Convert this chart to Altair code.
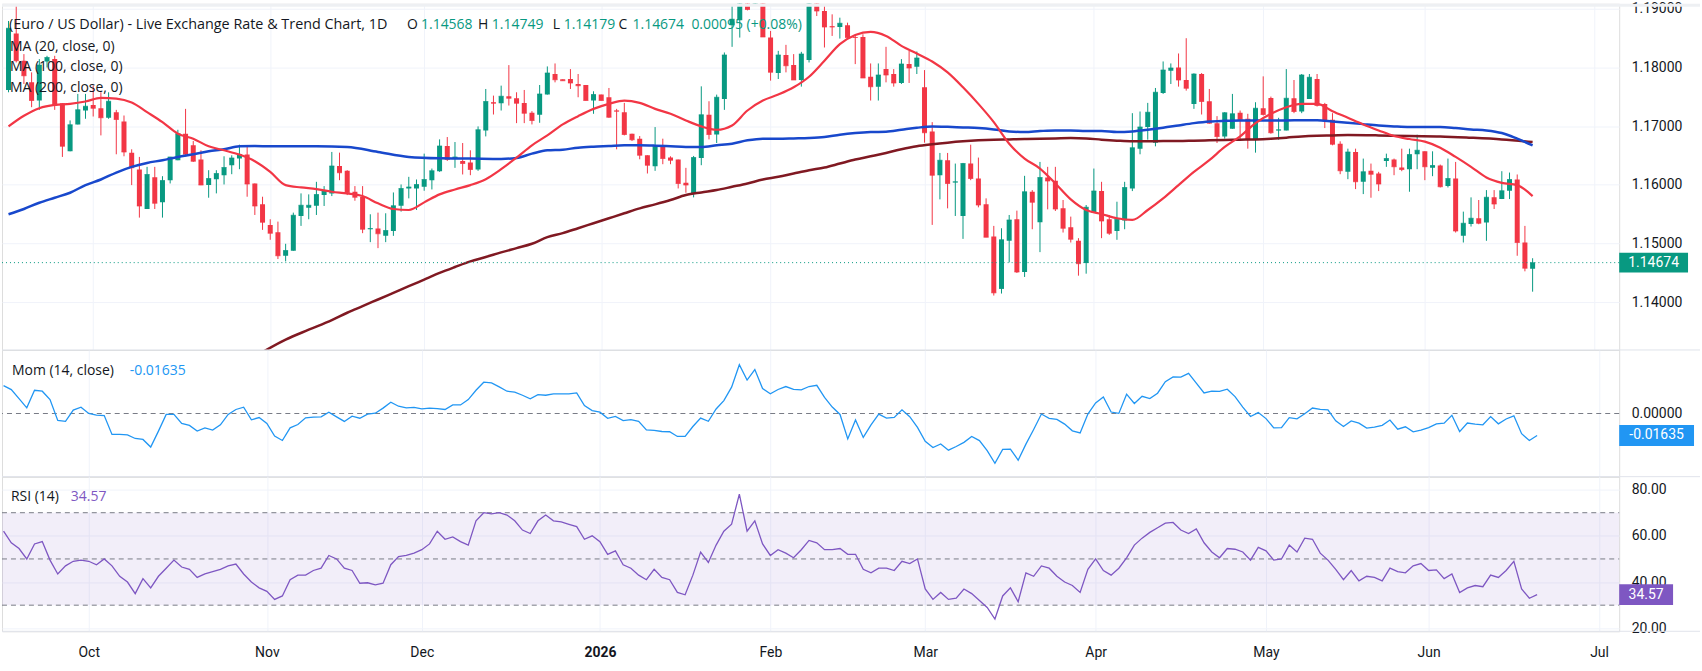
import altair as alt
import pandas as pd

# ---------------- data (bar index = trading days counted from 1 Oct 2025) ----------------
FIRST_BAR = -11

opens = [1.17616,1.18577,1.18114,1.17746,1.17436,1.18102,1.18142,1.17390,1.16571,1.17029,1.17266,
 1.17362,1.17306,1.17142,1.17238,1.17080,1.16548,1.16260,1.15588,1.16130,1.15701,
 1.16079,1.16419,1.16871,1.16673,1.16430,1.15995,1.16096,1.16164,1.16334,1.16447,
 1.16515,1.16023,1.15667,1.15317,1.15192,1.14791,1.14876,1.15469,1.15611,1.15644,
 1.15825,1.15854,1.16322,1.16238,1.15882,1.15797,1.15243,1.15255,1.15130,1.15215,
 1.15644,1.15938,1.15938,1.15967,1.16079,1.16232,1.16661,1.16447,1.16407,1.16379,
 1.16260,1.16927,1.17407,1.17390,1.17509,1.17475,1.17396,1.17226,1.17193,1.17537,
 1.17888,1.17797,1.17803,1.17718,1.17701,1.17436,1.17537,1.17492,1.17266,1.17238,
 1.16871,1.16786,1.16503,1.16317,1.16645,1.16464,1.16430,1.16034,1.15842,1.16458,
 1.17193,1.16859,1.17464,1.18718,1.18803,1.20400,1.19050,1.19600,1.18509,1.17904,
 1.18210,1.18040,1.17786,1.18125,1.19200,1.18961,1.18701,1.18690,1.18718,1.18520,
 1.18520,1.17842,1.17673,1.17972,1.17888,1.17735,1.18057,1.18012,1.17661,1.16910,
 1.16164,1.16419,1.16040,1.15469,1.16362,1.16108,1.15667,1.15119,1.14226,1.15046,
 1.15413,1.14514,1.15882,1.15362,1.16125,1.16068,1.15599,1.15277,1.15046,1.14667,
 1.15526,1.15893,1.15413,1.15215,1.15390,1.15938,1.16616,1.16984,1.16718,1.17565,
 1.17944,1.18000,1.17786,1.17379,1.17888,1.17424,1.17051,1.16825,1.16955,1.17226,
 1.17125,1.16769,1.17306,1.17481,1.16927,1.16927,1.17475,1.17249,1.17464,1.17803,
 1.17379,1.17108,1.16701,1.16221,1.16560,1.16051,1.16238,1.16193,1.16407,1.16430,
 1.16294,1.16266,1.16520,1.16571,1.16289,1.16328,1.15978,1.16108,1.15130,1.15334,
 1.15430,1.15356,1.15786,1.15757,1.15899,1.16091,1.15017,1.14568]

highs = [1.18792,1.19046,1.18227,1.17916,1.18142,1.18198,1.18198,1.17390,1.17097,1.17549,1.17549,
 1.17690,1.17577,1.17577,1.17277,1.17181,1.16605,1.16475,1.16306,1.16306,1.16147,
 1.16475,1.16938,1.17294,1.16746,1.16588,1.16249,1.16249,1.16486,1.16503,1.16684,
 1.16673,1.16023,1.15797,1.15413,1.15373,1.14995,1.15526,1.15854,1.15837,1.16051,
 1.15978,1.16560,1.16548,1.16249,1.15978,1.15978,1.15498,1.15526,1.15515,1.15870,
 1.16006,1.16136,1.16091,1.16531,1.16277,1.16774,1.16814,1.16729,1.16712,1.16588,
 1.16995,1.17633,1.17520,1.17690,1.18040,1.17577,1.17616,1.17255,1.17701,1.18017,
 1.18068,1.17797,1.17972,1.17888,1.17701,1.17594,1.17537,1.17650,1.17294,1.17396,
 1.16871,1.16831,1.16503,1.16984,1.16786,1.16486,1.16430,1.16289,1.16492,1.17678,
 1.17424,1.17537,1.18255,1.19046,1.20800,1.20600,1.19900,1.19750,1.18622,1.18283,
 1.18385,1.18227,1.18266,1.19350,1.19350,1.19046,1.18905,1.18848,1.18763,1.18537,
 1.18566,1.18068,1.18068,1.18351,1.17972,1.18142,1.18283,1.18272,1.17955,1.17068,
 1.16543,1.16543,1.16362,1.16373,1.16684,1.16464,1.15769,1.15300,1.15260,1.15486,
 1.15560,1.16153,1.15910,1.16390,1.16306,1.16306,1.15741,1.15458,1.15091,1.15656,
 1.16277,1.16051,1.15486,1.15712,1.16051,1.17221,1.17249,1.17396,1.17650,1.18102,
 1.18068,1.18238,1.18498,1.17899,1.17904,1.17633,1.17170,1.17238,1.17549,1.17266,
 1.17210,1.17407,1.17848,1.17503,1.17142,1.17972,1.17786,1.17888,1.17888,1.17888,
 1.17396,1.17221,1.16741,1.16616,1.16616,1.16447,1.16362,1.16221,1.16531,1.16447,
 1.16616,1.16616,1.16854,1.16571,1.16571,1.16345,1.16447,1.16390,1.15543,1.15786,
 1.15741,1.15910,1.15910,1.16232,1.16209,1.16176,1.15300,1.14749]

lows = [1.17577,1.18085,1.17718,1.17323,1.17277,1.18000,1.17277,1.16475,1.16571,1.17029,1.17125,
 1.17164,1.16842,1.17125,1.16520,1.16486,1.15995,1.15441,1.15588,1.15588,1.15441,
 1.16023,1.16419,1.16486,1.16390,1.15995,1.15780,1.15854,1.16006,1.16181,1.16266,
 1.15797,1.15486,1.15232,1.15063,1.14735,1.14695,1.14876,1.15300,1.15413,1.15486,
 1.15639,1.15808,1.16079,1.15825,1.15729,1.15176,1.15023,1.14921,1.15023,1.15130,
 1.15543,1.15769,1.15571,1.15899,1.15921,1.16221,1.16407,1.16289,1.16176,1.16164,
 1.16238,1.16825,1.17198,1.17266,1.17351,1.17051,1.17051,1.17029,1.17057,1.17537,
 1.17746,1.17775,1.17633,1.17492,1.17436,1.17210,1.17436,1.17142,1.16605,1.16842,
 1.16746,1.16435,1.16193,1.16238,1.16351,1.16351,1.15938,1.15865,1.15786,1.16334,
 1.16774,1.16712,1.17277,1.18351,1.18509,1.18972,1.19050,1.18520,1.17775,1.17803,
 1.17916,1.17786,1.17673,1.18085,1.18876,1.18340,1.18537,1.18492,1.18492,1.18057,
 1.17820,1.17436,1.17436,1.17746,1.17673,1.17718,1.17735,1.17888,1.16718,1.15317,
 1.15752,1.15599,1.15469,1.15079,1.16079,1.15616,1.15108,1.14113,1.14147,1.14678,
 1.14498,1.14430,1.15243,1.14853,1.15582,1.15554,1.15187,1.15017,1.14452,1.14486,
 1.15526,1.15091,1.15147,1.15063,1.15243,1.15893,1.16520,1.16769,1.16656,1.17549,
 1.17718,1.17673,1.17605,1.17294,1.17198,1.17040,1.16712,1.16786,1.16955,1.16774,
 1.16616,1.16548,1.17181,1.16871,1.16769,1.16927,1.17221,1.17221,1.17464,1.17334,
 1.16967,1.16673,1.16181,1.16096,1.15927,1.15842,1.15780,1.15893,1.16306,1.16164,
 1.16232,1.15882,1.16266,1.16079,1.16147,1.15955,1.15955,1.15187,1.15017,1.15289,
 1.15328,1.15046,1.15588,1.15757,1.15757,1.14791,1.14526,1.14179]

closes = [1.18667,1.18114,1.17859,1.17436,1.18040,1.18170,1.17351,1.16656,1.17023,1.17277,1.17339,
 1.17306,1.17142,1.17424,1.17113,1.16560,1.16289,1.15639,1.16176,1.15684,1.16074,
 1.16475,1.16871,1.16520,1.16402,1.15995,1.16108,1.16193,1.16294,1.16458,1.16515,
 1.16012,1.15639,1.15362,1.15176,1.14791,1.14882,1.15481,1.15650,1.15650,1.15837,
 1.15899,1.16322,1.16204,1.15870,1.15786,1.15243,1.15255,1.15164,1.15221,1.15644,
 1.15938,1.15961,1.16006,1.16091,1.16238,1.16661,1.16430,1.16475,1.16362,1.16260,
 1.16938,1.17419,1.17390,1.17509,1.17475,1.17390,1.17221,1.17097,1.17549,1.17904,
 1.17791,1.17775,1.17735,1.17690,1.17436,1.17537,1.17436,1.17153,1.17255,1.16859,
 1.16769,1.16503,1.16334,1.16656,1.16447,1.16419,1.16023,1.15995,1.16464,1.17193,
 1.16859,1.17492,1.18210,1.18820,1.20400,1.18989,1.19600,1.18520,1.17916,1.18210,
 1.18029,1.17786,1.18227,1.19200,1.18961,1.18690,1.18690,1.18752,1.18509,1.18509,
 1.17820,1.17673,1.17871,1.17871,1.17735,1.18057,1.17989,1.18159,1.16887,1.16164,
 1.16419,1.16023,1.16051,1.16362,1.16108,1.15656,1.15108,1.14159,1.15063,1.15402,
 1.14514,1.15882,1.15701,1.16125,1.16063,1.15588,1.15260,1.15074,1.14656,1.15616,
 1.15893,1.15385,1.15176,1.15413,1.15955,1.16633,1.16984,1.17238,1.17577,1.17955,
 1.17989,1.17786,1.17645,1.17888,1.17419,1.17051,1.16825,1.17226,1.17210,1.17113,
 1.16769,1.17306,1.17198,1.16887,1.16938,1.17475,1.17249,1.17871,1.17831,1.17351,
 1.17097,1.16690,1.16238,1.16560,1.16051,1.16221,1.16181,1.16012,1.16447,1.16306,
 1.16260,1.16515,1.16588,1.16306,1.16328,1.15967,1.16108,1.15215,1.15345,1.15430,
 1.15345,1.15786,1.15673,1.15899,1.16091,1.15017,1.14579,1.14674]

ma20_idx = list(range(-11, 188, 2))
ma20_val = [1.16995,1.17176,1.17306,1.17362,1.17379,1.17419,1.17481,1.17469,1.17402,1.17238,
 1.17068,1.16871,1.16786,1.16656,1.16588,1.16515,1.16402,1.16221,1.15995,1.15955,
 1.15927,1.15882,1.15854,1.15808,1.15684,1.15588,1.15571,1.15701,1.15837,1.15921,
 1.15995,1.16096,1.16266,1.16464,1.16673,1.16842,1.17029,1.17170,1.17294,1.17379,
 1.17436,1.17396,1.17294,1.17210,1.17097,1.16995,1.16938,1.17012,1.17266,1.17436,
 1.17537,1.17662,1.17842,1.18114,1.18396,1.18554,1.18605,1.18537,1.18368,1.18238,
 1.18102,1.17916,1.17662,1.17379,1.17068,1.16701,1.16447,1.16277,1.16023,1.15752,
 1.15571,1.15503,1.15430,1.15402,1.15571,1.15769,1.15995,1.16221,1.16419,1.16645,
 1.16825,1.17051,1.17210,1.17323,1.17379,1.17379,1.17255,1.17142,1.17029,1.16927,
 1.16831,1.16780,1.16735,1.16633,1.16475,1.16306,1.16125,1.16034,1.15995,1.15808]

ma100_idx = [-11,-9,-7,-5,-3,-1,1,3,5,7,9,11,13,15,17,19,21,23,25,29,33,37,41,45,49,53] + list(range(55, 188, 2))
ma100_val = [1.15498,1.15588,1.15695,1.15780,1.15865,1.15995,1.16091,1.16209,1.16306,1.16373,
 1.16419,1.16475,1.16520,1.16571,1.16605,1.16656,1.16661,1.16656,1.16656,1.16656,
 1.16645,1.16560,1.16475,1.16452,1.16447,1.16441,
 1.16458,1.16531,1.16588,1.16599,1.16633,1.16650,1.16661,1.16673,1.16673,1.16667,
 1.16656,1.16645,1.16645,1.16673,1.16701,1.16758,1.16786,1.16786,1.16791,1.16797,
 1.16814,1.16854,1.16882,1.16899,1.16904,1.16938,1.16972,1.16995,1.16989,1.16978,
 1.16967,1.16944,1.16910,1.16899,1.16916,1.16927,1.16927,1.16916,1.16916,1.16899,
 1.16910,1.16938,1.16972,1.17012,1.17051,1.17080,1.17091,1.17097,1.17097,1.17097,
 1.17097,1.17102,1.17102,1.17080,1.17057,1.17034,1.17012,1.16995,1.16984,1.16984,
 1.16984,1.16967,1.16944,1.16927,1.16882,1.16786,1.16673]

ma200_idx = [22, 25, 28, 31] + list(range(33, 164, 2)) + [167, 171, 175, 179, 183, 187]
ma200_val = [1.13150,1.13362,1.13531,1.13695,
 1.13820,1.13933,1.14046,1.14159,1.14272,1.14385,1.14498,1.14599,1.14695,1.14769,
 1.14848,1.14921,1.14995,1.15108,1.15176,1.15260,1.15345,1.15430,1.15515,1.15599,
 1.15667,1.15741,1.15825,1.15870,1.15910,1.15966,1.16023,1.16091,1.16136,1.16193,
 1.16249,1.16294,1.16362,1.16430,1.16486,1.16543,1.16605,1.16656,1.16690,1.16718,
 1.16741,1.16758,1.16769,1.16774,1.16780,1.16786,1.16791,1.16797,1.16791,1.16769,
 1.16752,1.16741,1.16741,1.16746,1.16746,1.16752,1.16758,1.16763,1.16769,1.16774,
 1.16786,1.16803,1.16825,1.16837,1.16842,1.16848,
 1.16842,1.16831,1.16825,1.16803,1.16774,1.16729]

# Momentum (14, close), one value per bar from FIRST_BAR
mom_val = [0.0208,0.0178,0.0111,0.0042,0.0173,0.0166,0.0104,-0.0052,-0.0059,0.0025,0.0047,
 0.0,-0.0012,-0.0015,-0.0156,-0.0156,-0.0159,-0.0186,-0.0193,-0.0250,-0.0131,
 -0.0007,-0.0007,-0.0074,-0.0089,-0.0131,-0.0107,-0.0124,-0.0084,-0.0007,0.0030,
 0.0047,-0.0047,-0.0030,-0.0074,-0.0168,-0.0201,-0.0107,-0.0082,-0.0032,-0.0027,
 -0.0025,0.0010,-0.0025,-0.0059,-0.0020,-0.0035,-0.0005,0.0002,0.0040,0.0084,
 0.0054,0.0042,0.0045,0.0035,0.0040,0.0037,0.0030,0.0064,0.0064,0.0104,
 0.0173,0.0233,0.0228,0.0198,0.0166,0.0159,0.0136,0.0109,0.0141,0.0136,
 0.0146,0.0146,0.0146,0.0154,0.0059,0.0022,0.0010,
 -0.0036,-0.0022,-0.0053,-0.0045,-0.0059,-0.0122,-0.0125,-0.0134,-0.0136,-0.0171,
 -0.0170,-0.0097,-0.0034,-0.0058,0.0034,0.0096,0.0196,0.0363,0.0249,0.0327,
 0.0186,0.0147,0.0179,0.0201,0.0179,0.0176,0.0201,0.0210,0.0120,0.0048,
 -0.0007,-0.0189,-0.0048,-0.0178,-0.0085,-0.0005,-0.0034,-0.0029,0.0027,-0.0024,
 -0.0104,-0.0207,-0.0253,-0.0227,-0.0273,-0.0246,-0.0215,-0.0171,-0.0202,-0.0276,
 -0.0371,-0.0267,-0.0266,-0.0348,-0.0228,-0.0119,-0.0004,-0.0036,-0.0044,-0.0079,
 -0.0129,-0.0145,-0.0004,0.0079,0.0123,0.0011,0.0001,0.0144,0.0075,0.0128,
 0.0111,0.0151,0.0237,0.0273,0.0271,0.0299,0.0227,0.0153,0.0167,0.0165,
 0.0181,0.0126,0.0048,-0.0022,0.0007,-0.0038,-0.0107,-0.0105,-0.0031,-0.0040,
 -0.0002,0.0041,0.0030,0.0027,-0.0054,-0.0097,-0.0055,-0.0072,-0.0109,-0.0102,
 -0.0088,-0.0049,-0.0117,-0.0099,-0.0136,-0.0124,-0.0105,-0.0077,-0.0072,-0.0013,
 -0.0135,-0.0071,-0.0079,-0.0084,-0.0023,-0.0077,-0.0041,-0.0017,-0.0150,-0.0201,
 -0.01635]

# RSI (14), one value per bar from FIRST_BAR
rsi_val = [62.0,57.0,54.5,50.0,56.5,57.5,49.5,43.5,47.0,49.0,49.5,
 49.0,47.5,50.0,47.0,42.5,40.0,35.0,41.5,37.5,42.5,
 46.0,49.5,46.5,45.5,42.0,43.5,44.5,45.5,47.0,47.8,
 43.5,40.0,37.5,36.0,32.5,34.0,41.0,43.0,43.0,45.0,
 46.0,51.5,50.0,46.0,45.0,39.5,39.7,38.8,39.5,47.5,
 51.0,51.5,52.5,54.0,56.5,62.0,58.5,59.5,57.5,56.0,
 66.5,70.0,69.5,70.0,69.0,66.5,62.5,61.0,66.5,69.0,
 66.5,66.0,65.0,64.0,58.5,60.0,57.5,52.0,53.5,47.5,
 46.0,43.0,41.0,45.5,42.0,41.0,35.5,34.5,43.0,53.0,
 48.5,56.0,62.0,65.0,78.0,62.0,66.5,56.5,51.5,54.0,
 52.5,50.5,54.0,58.0,57.0,54.0,54.0,54.5,52.0,52.0,
 45.5,44.0,46.0,46.0,45.0,49.0,48.0,50.0,37.0,32.5,
 35.5,32.5,33.0,37.0,35.0,32.0,29.0,24.0,34.0,37.5,
 31.5,44.0,42.5,47.0,46.0,42.5,40.0,38.5,35.5,45.5,
 50.0,45.0,43.0,46.0,50.5,56.0,59.0,61.5,63.5,65.5,
 65.8,62.5,61.0,63.0,57.0,53.0,50.5,54.5,54.2,53.0,
 49.5,55.0,53.5,49.5,50.0,56.0,53.0,59.0,58.5,52.5,
 49.5,45.5,41.0,45.0,40.5,42.5,42.0,40.5,46.0,44.5,
 44.0,47.0,48.0,45.0,45.3,41.5,43.5,35.5,37.5,38.5,
 38.0,43.0,42.0,45.0,49.0,37.0,33.0,34.57]

month_ticks = [0, 23, 43, 66, 88, 108, 130, 152, 173, 195]
month_labels = ["Oct", "Nov", "Dec", "2026", "Feb", "Mar", "Apr", "May", "Jun", "Jul"]
price_ticks = [1.14, 1.15, 1.16, 1.17, 1.18, 1.19]
rsi_ticks = [20, 40, 60, 80]
rsi_levels = [70, 50, 30]

last_open, last_high, last_low, last_close = 1.14568, 1.14749, 1.14179, 1.14674
last_change, last_change_pct = 0.00095, 0.08
last_mom = -0.01635
last_rsi = 34.57

# ---------------- styling ----------------
W = 1621
FONT = "Roboto"
LFONT = "Open Sans"
TXT = "#131722"
GREEN = "#089981"
RED = "#f23645"
GRID = "#f0f3fa"
SEP = "#e0e3eb"
MOM_C = "#2196f3"
RSI_C = "#7e57c2"

XDOM = [-11.2, 197.6]
label_expr = "".join(f"datum.value == {t} ? '{l}' : " for t, l in zip(month_ticks, month_labels)) + "''"

def xenc(show_labels=False):
    ax = alt.Axis(values=month_ticks, grid=True, gridColor=GRID, ticks=False, domain=False,
                  labels=show_labels, title=None, labelExpr=label_expr, labelFont=FONT,
                  labelFontSize=14, labelColor=TXT, labelPadding=14, labelOverlap=False,
                  labelFlush=False,
                  labelFontWeight={"expr": "datum.value == 66 ? 'bold' : 'normal'"})
    return alt.X("i:Q", scale=alt.Scale(domain=XDOM, nice=False, zero=False), axis=ax)

def text_layer(txt, x, y, color=TXT, size=14, weight="normal"):
    return alt.Chart(pd.DataFrame({"t": [txt]})).mark_text(
        align="left", baseline="middle", font=LFONT, fontSize=size, color=color,
        fontWeight=weight).encode(x=alt.value(x), y=alt.value(y), text="t:N")

def badge(value, label, color, wpx, hpx, yscale):
    half = hpx / wpx
    path = f"M-1,-{half:.3f}H1V{half:.3f}H-1Z"
    df_b = pd.DataFrame({"v": [value], "t": [label]})
    box = alt.Chart(df_b).mark_point(shape=path, size=wpx * wpx, filled=True, opacity=1,
                                     color=color, strokeWidth=0).encode(
        x=alt.value(W + wpx / 2), y=alt.Y("v:Q", scale=yscale))
    txt = alt.Chart(df_b).mark_text(font=FONT, fontSize=14, color="white", align="center",
                                    baseline="middle").encode(
        x=alt.value(W + wpx / 2), y=alt.Y("v:Q", scale=yscale), text="t:N")
    return box + txt

# ---------------- main price panel ----------------
idx = list(range(FIRST_BAR, FIRST_BAR + len(closes)))
df = pd.DataFrame({"i": idx, "open": opens, "high": highs, "low": lows, "close": closes})
df["dir"] = ["up" if c >= o else "down" for o, c in zip(df["open"], df["close"])]

ys_main = alt.Scale(domain=[1.13186, 1.19085], nice=False, zero=False)
yax_main = alt.Axis(orient="right", values=price_ticks, format=".5f", grid=True, gridColor=GRID,
                    ticks=False, domain=False, title=None, labelFont=FONT, labelFontSize=14,
                    labelColor=TXT, labelPadding=12)
col = alt.Color("dir:N", scale=alt.Scale(domain=["up", "down"], range=[GREEN, RED]), legend=None)

base = alt.Chart(df)
wicks = base.mark_rule(strokeWidth=1, clip=True).encode(
    x=xenc(), y=alt.Y("low:Q", scale=ys_main, axis=yax_main), y2="high:Q", color=col)
bodies = base.mark_bar(size=5, clip=True).encode(
    x=xenc(), y=alt.Y("open:Q", scale=ys_main), y2="close:Q", color=col)
ticks_ = base.mark_tick(orient="horizontal", size=5, thickness=1, clip=True).encode(
    x=xenc(), y=alt.Y("close:Q", scale=ys_main), color=col)

def ma_line(ix, vals, color, width):
    d = pd.DataFrame({"i": ix, "v": vals})
    return alt.Chart(d).mark_line(color=color, strokeWidth=width, clip=True,
                                  interpolate="monotone").encode(
        x=xenc(), y=alt.Y("v:Q", scale=ys_main))

ma200 = ma_line(ma200_idx, ma200_val, "#801922", 2.5)
ma100 = ma_line(ma100_idx, ma100_val, "#1848cc", 2.5)
ma20 = ma_line(ma20_idx, ma20_val, "#f23645", 2.2)

last_rule = alt.Chart(pd.DataFrame({"v": [last_close]})).mark_rule(
    color=GREEN, strokeDash=[1, 3], strokeWidth=1).encode(y=alt.Y("v:Q", scale=ys_main))

top_band = alt.Chart(pd.DataFrame({"a": [0]})).mark_rule(color="#eef0f3", strokeWidth=3).encode(
    x=alt.value(0), x2=alt.value(1702), y=alt.value(1.5))

legend_main = (
    text_layer("(Euro / US Dollar) - Live Exchange Rate & Trend Chart, 1D", 7, 21, size=14.4)
    + text_layer("O", 406, 21) + text_layer(f"{last_open:.5f}", 420, 21, GREEN)
    + text_layer("H", 477, 21) + text_layer(f"{last_high:.5f}", 491, 21, GREEN)
    + text_layer("L", 552, 21) + text_layer(f"{last_low:.5f}", 563, 21, GREEN)
    + text_layer("C", 618, 21) + text_layer(f"{last_close:.5f}", 632, 21, GREEN)
    + text_layer(f"{last_change:.5f} (+{last_change_pct:.2f}%)", 691, 21, GREEN)
    + text_layer("MA (20, close, 0)", 8, 43)
    + text_layer("MA (100, close, 0)", 8, 63)
    + text_layer("MA (200, close, 0)", 8, 84)
)

main = alt.layer(wicks, bodies, ticks_, ma200, ma100, ma20, last_rule, top_band, legend_main,
                 badge(last_close, f"{last_close:.5f}", GREEN, 69, 20, ys_main)).properties(
    width=W, height=347)

# ---------------- momentum panel ----------------
ys_mom = alt.Scale(domain=[-0.04704, 0.04734], nice=False, zero=False)
yax_mom = alt.Axis(orient="right", values=[0], format=".5f", grid=False, ticks=False, domain=False,
                   title=None, labelFont=FONT, labelFontSize=14, labelColor=TXT, labelPadding=12)
dmom = pd.DataFrame({"i": list(range(FIRST_BAR, FIRST_BAR + len(mom_val))), "v": mom_val})
mom_line = alt.Chart(dmom).mark_line(color=MOM_C, strokeWidth=1.3, clip=True).encode(
    x=xenc(), y=alt.Y("v:Q", scale=ys_mom, axis=yax_mom))
mom_zero = alt.Chart(pd.DataFrame({"v": [0.0]})).mark_rule(
    color="#787b86", strokeDash=[5, 4], strokeWidth=1).encode(y=alt.Y("v:Q", scale=ys_mom))
sep1 = alt.Chart(pd.DataFrame({"a": [0]})).mark_rule(color=SEP, strokeWidth=1).encode(
    x=alt.value(0), x2=alt.value(1702), y=alt.value(0))
mom_legend = text_layer("Mom (14, close)", 10, 21) + text_layer(f"{last_mom:.5f}", 128, 21, MOM_C)
mom = alt.layer(mom_zero, mom_line, sep1, mom_legend,
                badge(last_mom, f"{last_mom:.5f}", MOM_C, 75, 21, ys_mom)).properties(
    width=W, height=127)

# ---------------- RSI panel ----------------
ys_rsi = alt.Scale(domain=[18.7, 85.6], nice=False, zero=False)
yax_rsi = alt.Axis(orient="right", values=rsi_ticks, format=".2f", grid=True, gridColor=GRID,
                   ticks=False, domain=False, title=None, labelFont=FONT, labelFontSize=14,
                   labelColor=TXT, labelPadding=12)
drsi = pd.DataFrame({"i": list(range(FIRST_BAR, FIRST_BAR + len(rsi_val))), "v": rsi_val})
band = alt.Chart(pd.DataFrame({"lo": [rsi_levels[2]], "hi": [rsi_levels[0]]})).mark_rect(
    color=RSI_C, opacity=0.1).encode(x=alt.value(0), x2=alt.value(W),
                                     y=alt.Y("lo:Q", scale=ys_rsi), y2="hi:Q")
levels = alt.Chart(pd.DataFrame({"v": rsi_levels})).mark_rule(
    color="#787b86", strokeDash=[5, 4], strokeWidth=1).encode(
    x=alt.value(0), x2=alt.value(W), y=alt.Y("v:Q", scale=ys_rsi))
rsi_line = alt.Chart(drsi).mark_line(color=RSI_C, strokeWidth=1.3, clip=True).encode(
    x=xenc(True), y=alt.Y("v:Q", scale=ys_rsi, axis=yax_rsi))
sep2 = alt.Chart(pd.DataFrame({"a": [0]})).mark_rule(color=SEP, strokeWidth=1).encode(
    x=alt.value(0), x2=alt.value(1702), y=alt.value(0))
sep3 = alt.Chart(pd.DataFrame({"a": [0]})).mark_rule(color=SEP, strokeWidth=1).encode(
    x=alt.value(0), x2=alt.value(1702), y=alt.value(155))
rsi_legend = text_layer("RSI (14)", 9, 20) + text_layer(f"{last_rsi:.2f}", 69, 20, RSI_C)
rsi = alt.layer(band, levels, rsi_line, sep2, sep3, rsi_legend,
                badge(last_rsi, f"{last_rsi:.2f}", RSI_C, 54, 21, ys_rsi)).properties(
    width=W, height=155)

chart = alt.vconcat(main, mom, rsi, spacing=0, bounds="flush").properties(
    padding={"left": 0, "top": 0, "right": 0, "bottom": 0}, background="white"
).configure_view(stroke=None).configure(font=FONT)

chart.save("out.html", embed_options={"renderer": "svg", "actions": False})
